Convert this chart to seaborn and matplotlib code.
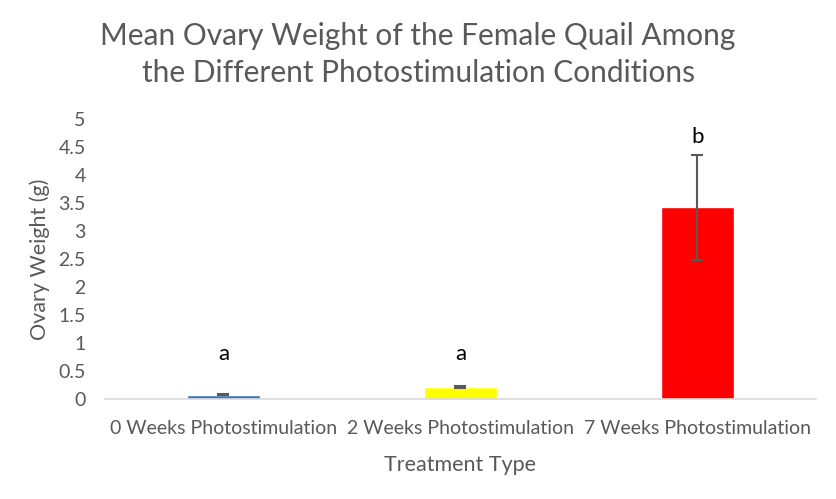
import matplotlib
matplotlib.use("Agg")
import matplotlib.pyplot as plt
import seaborn as sns
import pandas as pd

categories = ["0 Weeks Photostimulation", "2 Weeks Photostimulation", "7 Weeks Photostimulation"]
means = [0.08, 0.22, 3.42]
errors = [0.015, 0.02, 0.93]
letters = ["a", "a", "b"]
letter_y = [0.8, 0.8, 4.68]
colors = ["#4472C4", "#FFFF00", "#FF0000"]
yticks = [0, 0.5, 1, 1.5, 2, 2.5, 3, 3.5, 4, 4.5, 5]
ytick_labels = ["0", "0.5", "1", "1.5", "2", "2.5", "3", "3.5", "4", "4.5", "5"]

sns.set_style("white")
plt.rcParams["font.family"] = ["Lato", "DejaVu Sans"]

df = pd.DataFrame({"Treatment": categories, "Weight": means})
fig = plt.figure(figsize=(8.36, 4.99), dpi=100)
ax = fig.add_axes([0.1256, 0.2004, 0.8504, 0.5611])
sns.barplot(data=df, x="Treatment", y="Weight", hue="Treatment", palette=colors,
            width=0.31, legend=False, ax=ax, saturation=1)
ax.errorbar(range(len(categories)), means, yerr=errors, fmt="none",
            ecolor="#595959", elinewidth=1.5, capsize=4, capthick=1.5)
for i, (l, ly) in enumerate(zip(letters, letter_y)):
    ax.text(i, ly, l, ha="center", va="center", fontsize=16, color="black")

ax.set_xlim(-0.5, 2.5)
ax.set_ylim(0, 5)
ax.set_yticks(yticks)
ax.set_yticklabels(ytick_labels)
ax.tick_params(axis="both", labelsize=14, colors="#595959", length=0)
ax.tick_params(axis="y", pad=14)
ax.tick_params(axis="x", pad=15)
for s in ["top", "right", "left"]:
    ax.spines[s].set_visible(False)
ax.spines["bottom"].set_color("#D9D9D9")
ax.spines["bottom"].set_linewidth(1.2)
ax.set_xlabel("Treatment Type", fontsize=15.5, color="#595959", labelpad=13)
ax.set_ylabel("Ovary Weight (g)", fontsize=15.5, color="#595959", labelpad=6)
fig.suptitle("Mean Ovary Weight of the Female Quail Among\nthe Different Photostimulation Conditions",
             fontsize=21.5, color="#595959", x=0.5, y=0.955, linespacing=1.35)
fig.savefig("out.png", dpi=100, facecolor="white")
